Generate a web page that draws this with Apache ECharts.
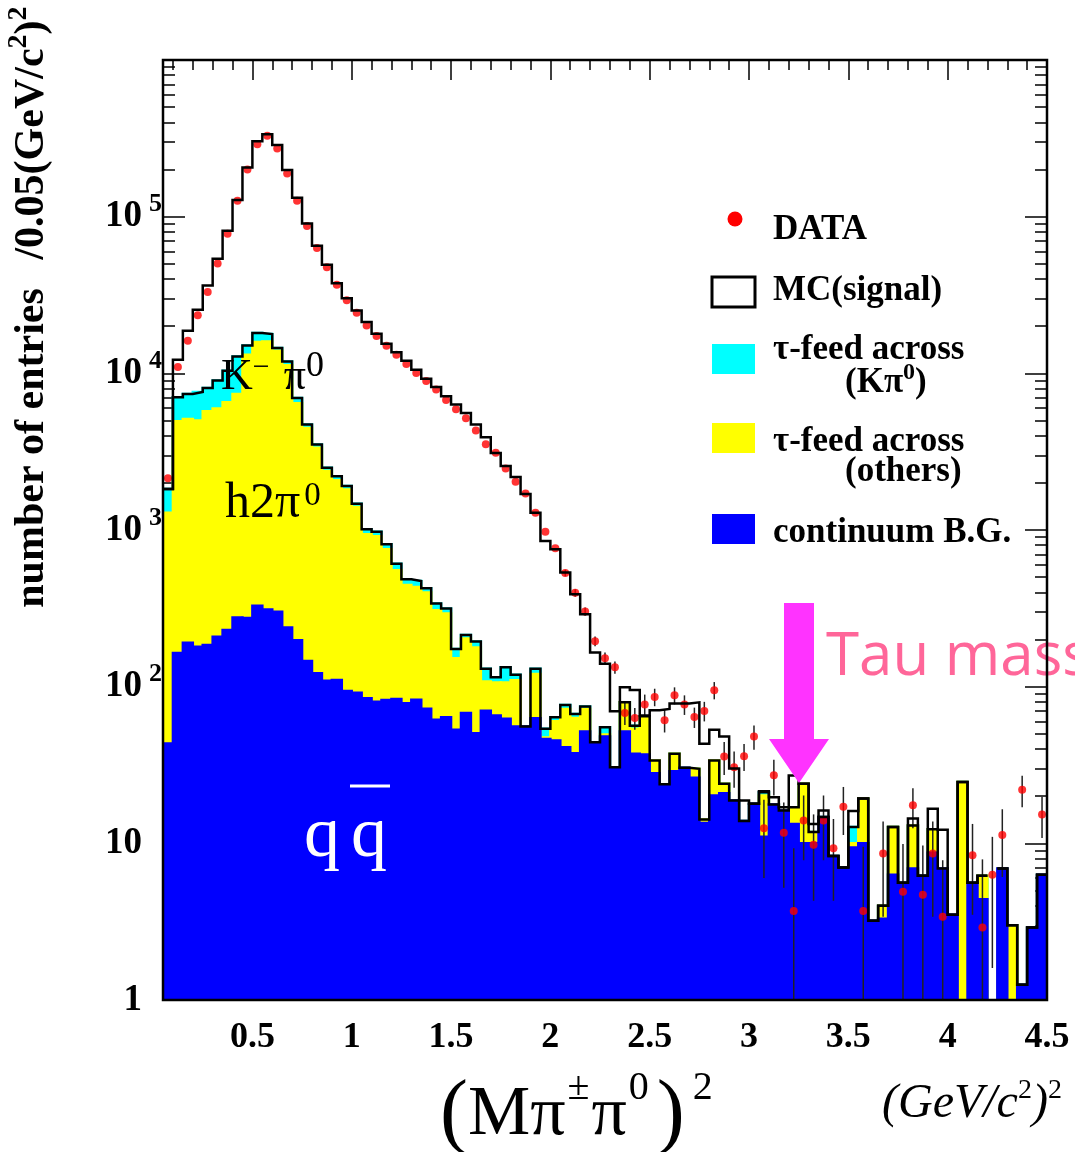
<!DOCTYPE html>
<html>
<head>
<meta charset="utf-8">
<title>(M pi pi0)^2</title>
<script src="https://cdn.jsdelivr.net/npm/echarts@6.0.0/dist/echarts.min.js"></script>
<style>
html, body { margin: 0; padding: 0; background: #fff; }
#main { width: 1075px; height: 1152px; }
</style>
</head>
<body>
<div id="main"></div>
<script>
'use strict';

var SERIF = '"Liberation Serif", "Times New Roman", serif',
    BIN_START = 0.05, // first bin edge, (GeV/c^2)^2
    BIN_WIDTH = 0.05,
    X_MAX = 4.5,
    Y_MIN = 1,
    Y_MAX = 1e6;

// tick labels
var xTickValues = [0.5, 1, 1.5, 2, 2.5, 3, 3.5, 4, 4.5];
var yTickValues = [1, 10, 100, 1000, 10000, 100000];

// DATA points per bin (null = empty bin)
var dataCounts = [
    2140, 10970, 16150, 23500, 33100, 50200, 77900, 126500, 200100, 290400,
    328000, 272300, 188800, 126500, 87300, 63200, 47500, 36700, 29300, 24400,
    20200, 17300, 15000, 13150, 11460, 10040, 8940, 7880, 6760, 5900,
    5170, 4320, 3520, 3110, 2470, 2030, 1710, 1290, 975, 764,
    532, 397, 302, 195, 152, 133, 68, 63, 77, 86,
    61, 88, 77, 64, 70, 95, 35.8, 30.6, 36, 48,
    12.5, 27.2, 11.7, 3.7, 14, 9.8, 14, 9.3, 17.1, null,
    3.7, null, 8.6, null, 4.9, 17.5, 4.7, 8.6, 3.4, null,
    null, 8.4, 2.9, 6.3, 11.3, null, 22, null, 15.3
];

// error bar half length (0 = hidden behind the marker)
var dataErrors = [
    0, 0, 0, 0, 0, 0, 0, 0, 0, 0,
    0, 0, 0, 0, 0, 0, 0, 0, 0, 0,
    0, 0, 0, 0, 0, 0, 0, 0, 0, 0,
    0, 0, 0, 0, 0, 0, 0, 0, 0, 0,
    25, 22, 18, 14, 13, 12, 11, 10, 12, 11,
    10, 11, 11, 9.5, 10, 12, 8.5, 8, 7, 8.5,
    6.5, 7, 6.5, 5.6, 6.2, 5.5, 6.2, 5, 5.8, 0,
    5.8, 0, 5.2, 0, 5, 5, 5, 5.2, 4.4, 0,
    0, 4.9, 5, 4.7, 5.2, 0, 5, 0, 4.5
];

// MC total (signal + backgrounds), black outline
var mcSignal = [
    1824, 12220, 18700, 25460, 36360, 53800, 81450, 127700, 206100, 303400,
    336300, 286300, 198300, 132100, 90600, 65330, 49250, 37600, 30180, 25190,
    21230, 17900, 15460, 13610, 12050, 10560, 9250, 8180, 7140, 6320,
    5590, 4710, 3910, 3100, 2560, 2180, 1700, 1290, 851, 754,
    535, 389, 290, 165, 140, 69.6, 99, 95.3, 65.4, 70.6,
    72.1, 78, 78, 79.4, 43.2, 53, 48, 30, 18.8, 17.9,
    21.5, 19.7, 17, 27.1, 24, 13.3, 16.2, 8.3, 7, 16.1,
    19.3, 3.2, 4, 12.7, 5.6, 14.4, 6.2, 16.6, 12.2, 3.5,
    24.6, 5.6, 6.2, 0, 6.9, 3, 1.25, 2.9, 6.3
];

// tau feed across (K pi0), stacked on top of the others (cyan)
var bgKpi0 = [
    1824, 7030, 7380, 7600, 8060, 8990, 10400, 12830, 15080, 18060,
    17800, 14490, 11920, 6960, 4710, 3515, 2495, 2207, 1906, 1471,
    1010, 975, 811, 610, 485, 473, 425, 339, 316, 174,
    214, 194, 130, 115, 133, 119, 55.6, 130, 53.8, 63.7,
    76.4, 67, 74.6, 44.2, 55, 30.6, 79.4, 56.4, 64.7, 33.8,
    23.8, 37.3, 30.4, 29.9, 14.2, 33.8, 24, 18.8, 13.9, 17.9,
    21.2, 17.7, 16.2, 17, 24, 11.8, 14.7, 8.3, 7, 12.7,
    19.3, 3.2, 4, 12.7, 5.6, 13, 6.2, 12.3, 6.9, 3.5,
    24.6, 5.6, 6.2, 0, 6.9, 3, 1.25, 2.9, 6.3
];

// tau feed across (others), stacked on continuum (yellow)
var bgOthers = [
    1289, 4945, 5118, 5000, 5728, 5960, 6535, 7380, 13150, 15820,
    15990, 13960, 11250, 6440, 4485, 3345, 2376, 2081, 1816, 1401,
    939, 912, 754, 554, 446, 433, 399, 308, 293, 152,
    203, 178, 108, 106.5, 106.5, 110, 55.6, 120.5, 47.3, 60.1,
    72.1, 63.2, 72.1, 44.2, 49.5, 30.6, 79.4, 53.8, 64.7, 33.8,
    23.8, 37.3, 30.4, 29.9, 14.2, 33.8, 24, 18.8, 13.9, 17.9,
    20.2, 17.7, 16.2, 17, 24, 11.8, 14.7, 8.3, 7, 10,
    19.3, 3.2, 4, 12.7, 5.6, 13, 6.2, 12.3, 6.9, 3.5,
    24.6, 5.6, 6.2, 0, 6.9, 3, 1.25, 2.9, 6.3
];

// continuum B.G. (blue)
var bgContinuum = [
    43.4, 164, 190.6, 180, 184.5, 208, 229.7, 276, 274, 328,
    311, 300.6, 238.7, 198, 146, 121.6, 109.2, 110.4, 93.9, 91.6,
    84.5, 80.2, 82.3, 83.5, 78.3, 82.6, 72.4, 61.4, 63.9, 53,
    67.8, 50.4, 70.3, 65.4, 62.3, 55.6, 55.6, 62.8, 46.4, 45.3,
    41.1, 37.6, 51.7, 44.2, 48, 30.6, 51.7, 37.3, 36.9, 28,
    23.8, 28.9, 30.4, 26.2, 13.5, 20.2, 20.9, 18.8, 13.9, 17.9,
    11, 17.7, 16.2, 13.3, 10, 10, 14.7, 8.3, 7, 9.4,
    10, 3.2, 3.3, 6.3, 5.6, 6.9, 6.2, 8.7, 6.9, 3.5,
    0, 5.6, 4.4, 0, 6.9, 0, 1.25, 2.9, 6.3
];

var chartDom = document.getElementById('main'),
    myChart = echarts.init(chartDom);

var helpers = {
    binEdge: function (i) {
        return Math.round((BIN_START + i * BIN_WIDTH) * 1000) / 1000;
    },
    // [lo, hi, value] for every filled bin
    histRects: function (values) {
        var out = [];
        for (var i = 0; i < values.length; i++) {
            if (values[i] > 0) {
                out.push([helpers.binEdge(i), helpers.binEdge(i + 1), values[i]]);
            }
        }
        return out;
    },
    // step outline, broken at empty bins
    histOutline: function (values) {
        var out = [];
        for (var i = 0; i < values.length; i++) {
            if (values[i] > 0) {
                out.push([helpers.binEdge(i), values[i]]);
                out.push([helpers.binEdge(i + 1), values[i]]);
            } else {
                out.push([helpers.binEdge(i), '-']);
            }
        }
        return out;
    },
    points: function () {
        var out = [];
        for (var i = 0; i < dataCounts.length; i++) {
            if (dataCounts[i] != null) {
                out.push([helpers.binEdge(i) + BIN_WIDTH / 2, dataCounts[i]]);
            }
        }
        return out;
    },
    errorBars: function () {
        var out = [];
        for (var i = 0; i < dataCounts.length; i++) {
            if (dataCounts[i] != null && dataErrors[i] > 0) {
                out.push([
                    helpers.binEdge(i) + BIN_WIDTH / 2,
                    Math.max(dataCounts[i] - dataErrors[i], Y_MIN),
                    dataCounts[i] + dataErrors[i]
                ]);
            }
        }
        return out;
    }
};

var xMinorTicks = [];
for (var k = 1; k < 45; k++) {
    if (k % 5 !== 0) xMinorTicks.push(k / 10);
}
var yMinorTicks = [];
for (var d = 0; d < 6; d++) {
    for (var m = 2; m < 10; m++) yMinorTicks.push(m * Math.pow(10, d));
}
var yMajorTicks = yTickValues.concat([Y_MAX]);

var tickLine = {color: '#000', width: 1.5};

function xAxisOf(position, ticks, len, withLabels) {
    return {
        type: 'value',
        min: BIN_START,
        max: X_MAX,
        position: position,
        axisLine: {show: false},
        splitLine: {show: false},
        axisTick: {inside: true, length: len, customValues: ticks, lineStyle: tickLine},
        axisLabel: withLabels ? {
            customValues: ticks,
            margin: 20,
            color: '#000',
            fontFamily: SERIF,
            fontWeight: 'bold',
            fontSize: 36
        } : {show: false}
    };
}

function yAxisOf(position, ticks, len, withLabels) {
    return {
        type: 'log',
        logBase: 10,
        min: Y_MIN,
        max: Y_MAX,
        position: position,
        axisLine: {show: false},
        splitLine: {show: false},
        axisTick: {inside: true, length: len, customValues: ticks, lineStyle: tickLine},
        axisLabel: withLabels ? {
            customValues: yTickValues,
            margin: 1,
            formatter: function (v) {
                var e = Math.round(Math.log(v) / Math.LN10);
                if (e === 0) return '{b|1}{p|}';
                if (e === 1) return '{b|10}{p|}';
                return '{b|10}{e|' + e + '}';
            },
            rich: {
                b: {fontFamily: SERIF, fontWeight: 'bold', fontSize: 37, color: '#000'},
                e: {fontFamily: SERIF, fontWeight: 'bold', fontSize: 26, color: '#000', width: 17, padding: [0, 0, 24, 3]},
                p: {width: 20}
            }
        } : {show: false}
    };
}

function rectSeries(name, values, color) {
    return {
        name: name,
        type: 'custom',
        xAxisIndex: 0,
        yAxisIndex: 0,
        clip: true,
        silent: true,
        encode: {x: [0, 1], y: 2},
        data: helpers.histRects(values),
        renderItem: function (params, api) {
            var top = api.coord([api.value(0), api.value(2)]),
                bottom = api.coord([api.value(1), Y_MIN]);
            return {
                type: 'rect',
                shape: {x: top[0], y: top[1], width: bottom[0] - top[0], height: bottom[1] - top[1]},
                style: {fill: color, stroke: color, lineWidth: 2.5}
            };
        }
    };
}

function outlineSeries(name, values) {
    return {
        name: name,
        type: 'line',
        xAxisIndex: 0,
        yAxisIndex: 0,
        data: helpers.histOutline(values),
        symbol: 'none',
        connectNulls: false,
        silent: true,
        lineStyle: {color: '#000', width: 2.5, join: 'miter'}
    };
}

function text(x, y, str, font, extra) {
    var el = {
        type: 'text',
        x: x,
        y: y,
        z: 100,
        style: {
            text: str,
            font: font,
            fill: '#000',
            textAlign: 'left',
            textVerticalAlign: 'middle'
        }
    };
    if (extra) {
        for (var key in extra) {
            if (key === 'style') {
                for (var s in extra.style) el.style[s] = extra.style[s];
            } else {
                el[key] = extra[key];
            }
        }
    }
    return el;
}

var legendFont = 'bold 35px ' + SERIF,
    supLegend = {font: 'bold 24px ' + SERIF, padding: [0, 0, 20, 0]};

var graphics = [
    // frame
    {
        type: 'rect', z: 90,
        shape: {x: 163, y: 60, width: 884, height: 940},
        style: {fill: 'none', stroke: '#000', lineWidth: 2.5}
    },
    // y axis title
    text(32, 448, 'number of entries', 'bold 42px ' + SERIF, {rotation: Math.PI / 2, style: {textAlign: 'center'}}),
    text(32, 133, '{t|/0.05(GeV/c}{s|2}{t|)}{s|2}', 'bold 42px ' + SERIF, {
        rotation: Math.PI / 2,
        style: {
            textAlign: 'center',
            rich: {
                t: {font: 'bold 42px ' + SERIF},
                s: {font: 'bold 28px ' + SERIF, padding: [0, 0, 26, 0]}
            }
        }
    }),
    // x axis title
    text(440, 1116, '{p|(}{m|M\u03c0}{s|\u00b1}{m|\u03c0}{s|0}{q|)}{s|2}', '70px ' + SERIF, {
        style: {
            rich: {
                p: {font: '84px ' + SERIF},
                q: {font: '84px ' + SERIF, padding: [0, 6, 0, 6]},
                m: {font: '70px ' + SERIF},
                s: {font: '40px ' + SERIF, padding: [0, 2, 56, 2]}
            }
        }
    }),
    text(882, 1104, '{i|(GeV/c}{s|2}{i|)}{s|2}', 'italic 48px ' + SERIF, {
        style: {
            rich: {
                i: {font: 'italic 48px ' + SERIF},
                s: {font: '28px ' + SERIF, padding: [0, 0, 26, 0]}
            }
        }
    }),
    // legend
    {type: 'circle', z: 100, shape: {cx: 735, cy: 219, r: 7.5}, style: {fill: '#ff0000'}},
    {type: 'rect', z: 100, shape: {x: 712, y: 277, width: 43, height: 30}, style: {fill: '#fff', stroke: '#000', lineWidth: 3}},
    {type: 'rect', z: 100, shape: {x: 712, y: 344, width: 43, height: 30}, style: {fill: '#00ffff'}},
    {type: 'rect', z: 100, shape: {x: 712, y: 423, width: 43, height: 30}, style: {fill: '#ffff00'}},
    {type: 'rect', z: 100, shape: {x: 712, y: 514, width: 43, height: 30}, style: {fill: '#0000ff'}},
    text(773, 230, 'DATA', legendFont),
    text(773, 291, 'MC(signal)', legendFont),
    text(773, 350, '\u03c4-feed across', legendFont),
    text(845, 383, '{t|(K\u03c0}{s|0}{t|)}', legendFont, {
        style: {rich: {t: {font: legendFont}, s: supLegend}}
    }),
    text(773, 442, '\u03c4-feed across', legendFont),
    text(845, 472, '(others)', legendFont),
    text(773, 533, 'continuum B.G.', legendFont),
    // component labels
    text(221, 377, '{m|K}{s|\u2212}{g|}{m|\u03c0}{z|0}', '44px ' + SERIF, {
        style: {
            rich: {
                m: {font: '44px ' + SERIF},
                s: {font: '30px ' + SERIF, padding: [0, 0, 18, 0]},
                g: {width: 14},
                z: {font: '36px ' + SERIF, padding: [0, 0, 20, 0]}
            }
        }
    }),
    text(225, 504, '{m|h2\u03c0}{s|0}', '50px ' + SERIF, {
        style: {
            rich: {
                m: {font: '50px ' + SERIF},
                s: {font: '33px ' + SERIF, padding: [0, 0, 16, 4]}
            }
        }
    }),
    text(304, 837, 'q', '72px ' + SERIF, {style: {fill: '#fff'}}),
    text(351, 837, 'q', '72px ' + SERIF, {style: {fill: '#fff'}}),
    {type: 'line', z: 100, shape: {x1: 350, y1: 786, x2: 390, y2: 786}, style: {stroke: '#fff', lineWidth: 3}},
    // tau mass arrow
    {
        type: 'polygon', z: 95,
        shape: {points: [[784, 603], [814, 603], [814, 739], [829, 739], [799, 783], [769, 739], [784, 739]]},
        style: {fill: '#ff33ff'}
    },
    text(826, 658, 'Tau mass', '60px "Open Sans", "DejaVu Sans", sans-serif', {z: 80, style: {fill: '#ff6699'}})
];

var option = {
    animation: false,
    backgroundColor: '#fff',
    grid: {left: 163, top: 60, width: 884, height: 940, containLabel: false},
    xAxis: [
        xAxisOf('bottom', xTickValues, 20, true),
        xAxisOf('bottom', xMinorTicks, 10, false),
        xAxisOf('top', xTickValues, 20, false),
        xAxisOf('top', xMinorTicks, 10, false)
    ],
    yAxis: [
        yAxisOf('left', yMajorTicks, 22, true),
        yAxisOf('left', yMinorTicks, 12, false),
        yAxisOf('right', yMajorTicks, 22, false),
        yAxisOf('right', yMinorTicks, 12, false)
    ],
    series: [
        outlineSeries('MC(signal)', mcSignal),
        rectSeries('tau-feed across (K pi0)', bgKpi0, '#00ffff'),
        outlineSeries('background total', bgKpi0),
        rectSeries('tau-feed across (others)', bgOthers, '#ffff00'),
        rectSeries('continuum B.G.', bgContinuum, '#0000ff'),
        {
            name: 'DATA errors',
            type: 'custom',
            xAxisIndex: 0,
            yAxisIndex: 0,
            clip: true,
            silent: true,
            encode: {x: 0, y: [1, 2]},
            data: helpers.errorBars(),
            renderItem: function (params, api) {
                var lo = api.coord([api.value(0), api.value(1)]),
                    hi = api.coord([api.value(0), api.value(2)]);
                return {
                    type: 'line',
                    shape: {x1: lo[0], y1: lo[1], x2: hi[0], y2: hi[1]},
                    style: {stroke: '#222', lineWidth: 1.5}
                };
            }
        },
        {
            name: 'DATA',
            type: 'scatter',
            xAxisIndex: 0,
            yAxisIndex: 0,
            symbol: 'circle',
            symbolSize: 8,
            silent: true,
            itemStyle: {color: '#ff0000'},
            data: helpers.points()
        }
    ],
    graphic: graphics
};

myChart.setOption(option);
</script>
</body>
</html>
